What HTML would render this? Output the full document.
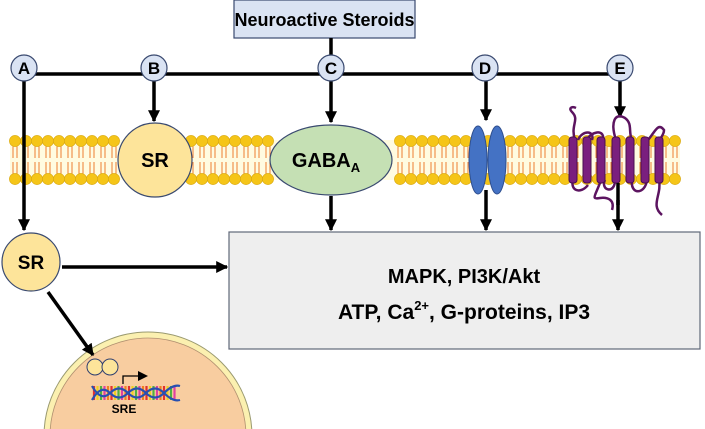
<!DOCTYPE html>
<html><head><style>html,body{margin:0;background:#fff;width:705px;height:429px;overflow:hidden}svg{display:block}text{font-family:"Liberation Sans",sans-serif;font-weight:bold}</style></head>
<body>
<svg id="s" width="705" height="429" viewBox="0 0 705 429" xmlns="http://www.w3.org/2000/svg">
<defs><marker id="ar" markerWidth="10" markerHeight="10" refX="5" refY="5" orient="auto" markerUnits="userSpaceOnUse" viewBox="0 0 10 10"><path d="M0,0 L10,5 L0,10z" fill="#000"/></marker>
<marker id="ah" viewBox="0 0 10 10" refX="9" refY="5" markerWidth="12" markerHeight="12" markerUnits="userSpaceOnUse" orient="auto"><path d="M0,0 L10,5 L0,10z" fill="#000"/></marker></defs>
<!-- nucleus -->
<circle cx="148" cy="436" r="104" fill="#fbf0b0" stroke="#9a9a70" stroke-width="1"/>
<circle cx="148" cy="436" r="98" fill="#f8cda0" stroke="#b09070" stroke-width="0.8"/>
<!-- membrane -->
<rect x="10" y="140" width="670" height="40" fill="#fffbe0"/>
<g id="lip"></g>
<!-- top box -->
<rect x="234" y="0" width="181" height="38" fill="#dae3f3" stroke="#3a4a70" stroke-width="1.2"/>
<text x="324.5" y="26" font-size="18" text-anchor="middle">Neuroactive Steroids</text>
<g stroke="#000" stroke-width="3.5" fill="none">
<line x1="331" y1="38" x2="331" y2="60"/>
<line x1="24" y1="74" x2="620" y2="74"/>
<line x1="24" y1="74" x2="24" y2="230" marker-end="url(#ah)"/>
<line x1="154" y1="74" x2="154" y2="121" marker-end="url(#ah)"/>
<line x1="331" y1="74" x2="331" y2="122" marker-end="url(#ah)"/>
<line x1="486" y1="74" x2="486" y2="120" marker-end="url(#ah)"/>
<line x1="620" y1="74" x2="620" y2="117" marker-end="url(#ah)"/>
<line x1="331" y1="196" x2="331" y2="230" marker-end="url(#ah)"/>
<line x1="486" y1="190" x2="486" y2="230" marker-end="url(#ah)"/>
<line x1="618" y1="200" x2="618" y2="230" marker-end="url(#ah)"/>
<line x1="62" y1="267" x2="227" y2="267" marker-end="url(#ah)"/>
<line x1="48" y1="292" x2="93" y2="355" marker-end="url(#ah)"/>
</g>
<g font-size="17" text-anchor="middle">
<circle cx="24" cy="68" r="13" fill="#dae3f3" stroke="#3a4a70" stroke-width="1.2"/><text x="24" y="74">A</text>
<circle cx="154" cy="68" r="13" fill="#dae3f3" stroke="#3a4a70" stroke-width="1.2"/><text x="154" y="74">B</text>
<circle cx="331" cy="68" r="13" fill="#dae3f3" stroke="#3a4a70" stroke-width="1.2"/><text x="331" y="74">C</text>
<circle cx="485" cy="68" r="13" fill="#dae3f3" stroke="#3a4a70" stroke-width="1.2"/><text x="485" y="74">D</text>
<circle cx="620" cy="68" r="13" fill="#dae3f3" stroke="#3a4a70" stroke-width="1.2"/><text x="620" y="74">E</text>
</g>
<circle cx="155" cy="160" r="37" fill="#fde49a" stroke="#3a4a70" stroke-width="1.2"/>
<text x="155" y="167" font-size="20" text-anchor="middle">SR</text>
<ellipse cx="331" cy="160" rx="61" ry="35" fill="#c5e0b4" stroke="#3a4a70" stroke-width="1.2"/>
<text x="326" y="167" font-size="20" text-anchor="middle">GABA<tspan font-size="13" dy="5">A</tspan></text>
<ellipse cx="478" cy="160" rx="9" ry="34" fill="#4472c4" stroke="#2f4f8f"/>
<ellipse cx="497" cy="160" rx="9" ry="34" fill="#4472c4" stroke="#2f4f8f"/>
<!-- GPCR loops -->
<g fill="none" stroke="#5c1460" stroke-width="2.5">
<path d="M575,140 C570,125 580,120 572,112 C568,108 572,106 576,108"/>
<path d="M578,140 C582,130 595,130 592,140"/>
<path d="M587,140 C590,132 605,128 603,140"/>
<path d="M605,180 C600,190 615,195 615,180"/>
<path d="M616,140 C610,122 615,112 625,118 C633,124 628,132 632,140"/>
<path d="M632,180 C630,195 645,195 647,180"/>
<path d="M648,140 C655,132 658,122 664,130 C664,135 660,138 660,140"/>
<path d="M573,180 C570,190 580,195 588,185"/>
<path d="M601,180 C596,195 590,200 600,198 C608,197 615,200 612,210"/>
<path d="M659,180 C662,195 650,205 662,215"/>
</g>
<g fill="#7a1f7e" stroke="#4a0f50" stroke-width="1">
<rect x="569" y="137" width="8" height="46" rx="3"/><rect x="583" y="137" width="8" height="46" rx="3"/>
<rect x="597" y="137" width="8" height="46" rx="3"/><rect x="612" y="137" width="8" height="46" rx="3"/>
<rect x="626" y="137" width="8" height="46" rx="3"/><rect x="641" y="137" width="8" height="46" rx="3"/>
<rect x="655" y="137" width="8" height="46" rx="3"/>
</g>
<line x1="618" y1="183" x2="618" y2="205" stroke="#000" stroke-width="3.5"/>
<!-- big box -->
<rect x="229" y="232" width="471" height="117" fill="#eeeeee" stroke="#606878" stroke-width="1.2"/>
<text x="464" y="283" font-size="20" text-anchor="middle">MAPK, PI3K/Akt</text>
<text x="464" y="319" font-size="21" text-anchor="middle">ATP, Ca<tspan font-size="13" dy="-9">2+</tspan><tspan dy="9">, G-proteins, IP3</tspan></text>
<!-- SR left -->
<circle cx="31" cy="262" r="29" fill="#fde49a" stroke="#3a4a70" stroke-width="1.2"/>
<text x="31" y="269" font-size="19" text-anchor="middle">SR</text>
<!-- nucleus content -->
<circle cx="95" cy="367" r="8" fill="#fde49a" stroke="#2f3f70"/>
<circle cx="110" cy="367" r="8" fill="#fde49a" stroke="#2f3f70"/>
<path d="M123,384 V376 H143" stroke="#000" stroke-width="1.3" fill="none" marker-end="url(#ar)"/>
<g id="dna"></g>
<text x="124" y="413" font-size="12" text-anchor="middle">SRE</text>
</svg>
<script>
var g=document.getElementById("lip"),h="";
for(var x=15;x<=680;x+=11){
 var skip=(x>120&&x<190)||(x>275&&x<390);
 if(!skip){
 h+='<path d="M'+(x-2)+',146 V158 M'+(x+2)+',146 V158 M'+(x-2)+',162 V174 M'+(x+2)+',162 V174" stroke="#ed7d31" stroke-width="1" fill="none"/>';
 h+='<circle cx="'+x+'" cy="141" r="5.6" fill="#f5c518" stroke="#d8a810" stroke-width="0.6"/>';
 h+='<circle cx="'+x+'" cy="179" r="5.6" fill="#f5c518" stroke="#d8a810" stroke-width="0.6"/>';}
}
g.innerHTML=h;
var d=document.getElementById("dna"),c=["#e03030","#f0d020","#50b040","#e040a0","#f08020"],s="";
for(var i=0;i<24;i++){var xx=94+i*3.5;s+='<line x1="'+xx+'" y1="386" x2="'+xx+'" y2="400" stroke="'+c[i%5]+'" stroke-width="2.2"/>';}
s+='<path d="M92,400 Q101,384 110,393 T128,393 T146,393 T164,393 T180,386" stroke="#2850b0" stroke-width="2.2" fill="none"/>';
s+='<path d="M92,386 Q101,402 110,393 T128,393 T146,393 T164,393 T180,400" stroke="#2850b0" stroke-width="2.2" fill="none"/>';
d.innerHTML=s;
</script>
</body></html>
